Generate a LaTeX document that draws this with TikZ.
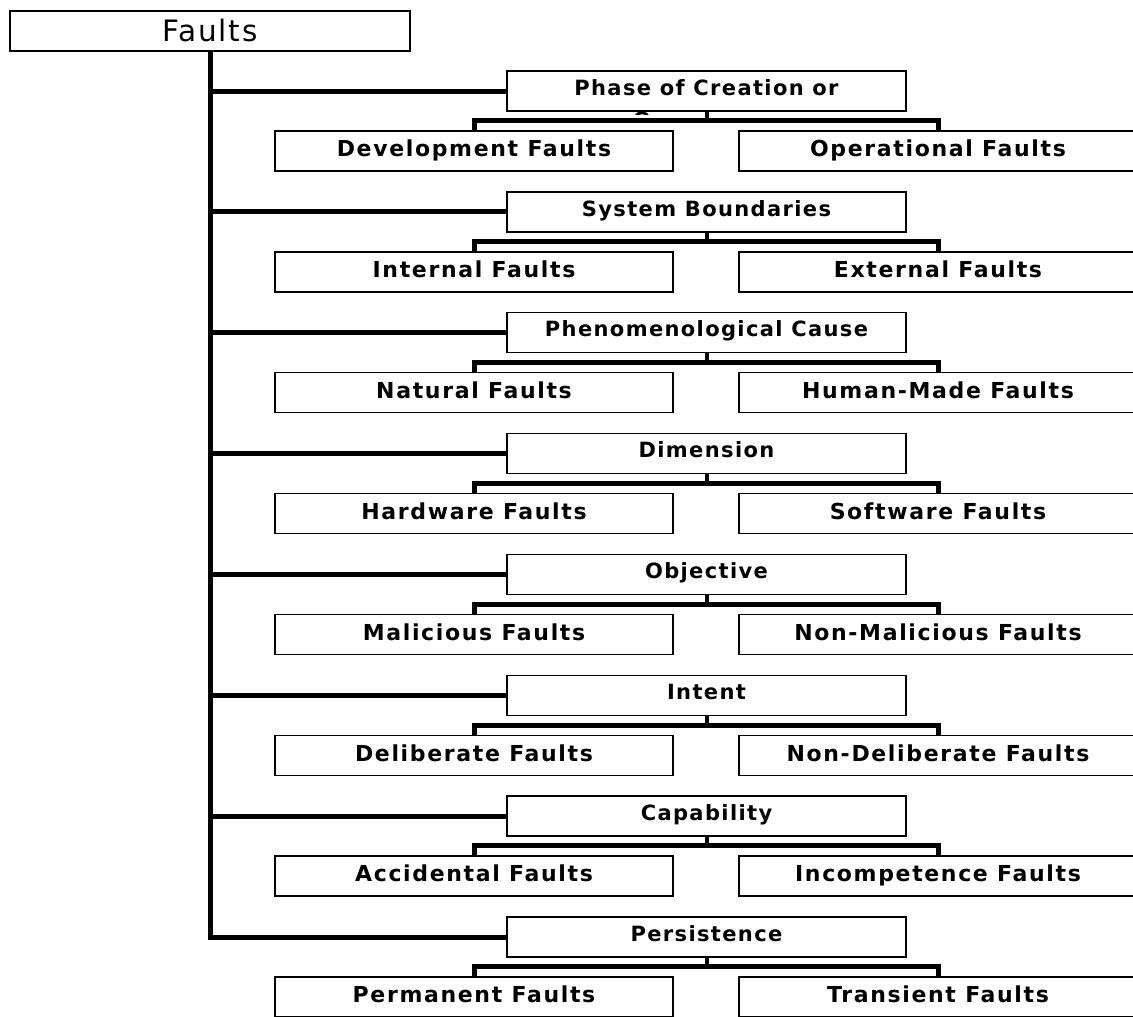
\documentclass[tikz,border=0pt]{standalone}
\usepackage{fontspec}
\setmainfont{DejaVu Sans}
\newfontfamily\rootfont{DejaVu Sans}[LetterSpace=6]
\newfontfamily\catfont{DejaVu Sans}[LetterSpace=6.5]
\newfontfamily\leaffont{DejaVu Sans}[LetterSpace=7.5]
\begin{document}
\begin{tikzpicture}[x=1pt,y=-1pt,
  box/.style={draw=black,line width=1.4pt,fill=white,rectangle,inner sep=0pt,minimum height=40pt},
  rootbox/.style={box,minimum width=400pt,font=\rootfont\fontsize{29.5}{31}\selectfont,text height=21.5pt,text depth=0pt},
  catbox/.style={box,minimum width=399pt,font=\catfont\bfseries\fontsize{21}{23}\selectfont,text height=15.3pt,text depth=7pt},
  leafbox/.style={box,minimum width=398pt,font=\leaffont\bfseries\fontsize{22}{25}\selectfont,text height=16pt,text depth=4.5pt},
  conn/.style={line width=5pt,black},
  stub/.style={line width=4pt,black}]
\clip (0,0) rectangle (1133,1017);
\fill[white] (0,0) rectangle (1133,1017);
\node[rootbox] (root) at (210,31) {Faults};
\foreach \i/\c/\l/\r in {
  0/{Phase of Creation or}/{Development Faults}/{Operational Faults},
  1/{System Boundaries}/{Internal Faults}/{External Faults},
  2/{Phenomenological Cause}/{Natural Faults}/{Human-Made Faults},
  3/{Dimension}/{Hardware Faults}/{Software Faults},
  4/{Objective}/{Malicious Faults}/{Non-Malicious Faults},
  5/{Intent}/{Deliberate Faults}/{Non-Deliberate Faults},
  6/{Capability}/{Accidental Faults}/{Incompetence Faults},
  7/{Persistence}/{Permanent Faults}/{Transient Faults}}{
  \pgfmathsetmacro\yy{91+120.86*\i}
  \node[catbox] (cat\i) at (706.5,\yy) {\c};
  \node[leafbox] (l\i) at (474,\yy+60) {\l};
  \node[leafbox] (r\i) at (938,\yy+60) {\r};
  \path (cat\i.south) ++(0,9) coordinate (b\i);
}
\begin{scope}
  \clip (600,111.8) rectangle (820,114);
  \node[font=\catfont\bfseries\fontsize{21}{23}\selectfont,anchor=base,inner sep=0pt] (occ) at (706.5,127) {Occurrence};
\end{scope}
\draw[conn] (root.south) |- (cat7.west);
\foreach \i in {0,...,6}{
  \draw[conn] (root.south |- cat\i.west) -- (cat\i.west);
}
\foreach \i in {0,...,7}{
  \draw[stub] (cat\i.south) -- (b\i);
  \draw[conn] (l\i.north) |- (b\i) -| (r\i.north);
}
\end{tikzpicture}
\end{document}
